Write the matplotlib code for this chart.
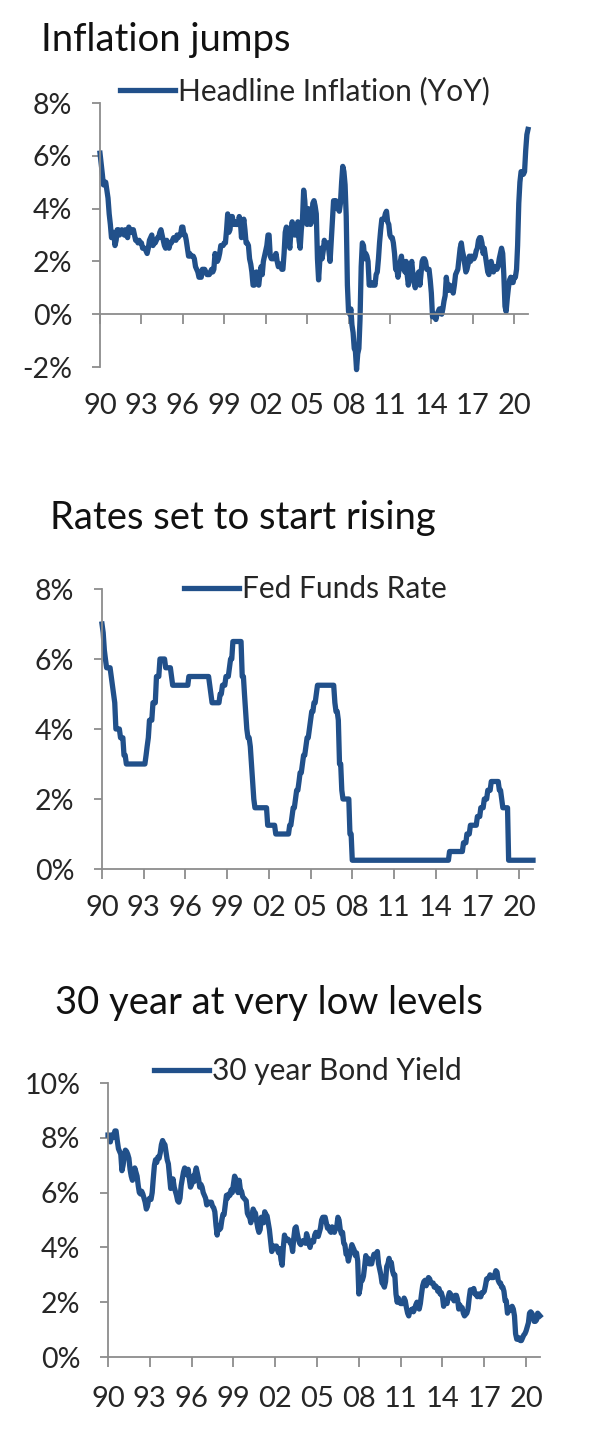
import pandas as pd
import matplotlib.pyplot as plt
from matplotlib.ticker import FuncFormatter

plt.rcParams['font.family'] = ['Lato', 'DejaVu Sans']

# Fechas mensuales: dic-1990 a dic-2021
fechas = pd.date_range("1990-12-01", "2021-12-01", freq="MS")

# Inflación general (% anual), mensual desde dic-1990
inflacion = [
    6.1,
    5.7, 5.3, 4.9, 4.9, 5.0, 4.7, 4.4, 3.8, 3.4, 2.9, 3.0, 3.1,
    2.6, 2.8, 3.2, 3.2, 3.0, 3.1, 3.2, 3.1, 3.0, 3.2, 3.0, 2.9,
    3.3, 3.2, 3.1, 3.2, 3.2, 3.0, 2.8, 2.8, 2.7, 2.8, 2.7, 2.7,
    2.5, 2.5, 2.5, 2.4, 2.3, 2.5, 2.8, 2.9, 3.0, 2.6, 2.7, 2.7,
    2.8, 2.9, 2.9, 3.1, 3.2, 3.0, 2.8, 2.6, 2.5, 2.8, 2.6, 2.5,
    2.7, 2.7, 2.8, 2.9, 2.9, 2.8, 3.0, 2.9, 3.0, 3.0, 3.3, 3.3,
    3.0, 3.0, 2.8, 2.5, 2.2, 2.3, 2.2, 2.2, 2.2, 2.1, 1.8, 1.7,
    1.6, 1.4, 1.4, 1.4, 1.7, 1.7, 1.7, 1.6, 1.5, 1.5, 1.5, 1.6,
    1.7, 1.6, 1.7, 2.3, 2.1, 2.0, 2.1, 2.3, 2.6, 2.6, 2.6, 2.7,
    2.7, 3.2, 3.8, 3.1, 3.2, 3.7, 3.7, 3.4, 3.5, 3.4, 3.4, 3.4,
    3.7, 3.5, 2.9, 3.3, 3.6, 3.2, 2.7, 2.7, 2.6, 2.1, 1.9, 1.6,
    1.1, 1.1, 1.5, 1.6, 1.2, 1.1, 1.5, 1.8, 1.5, 2.0, 2.2, 2.4,
    2.6, 3.0, 3.0, 2.2, 2.1, 2.1, 2.1, 2.2, 2.3, 2.0, 1.8, 1.9,
    1.9, 1.7, 1.7, 2.3, 3.1, 3.3, 3.0, 2.7, 2.5, 3.2, 3.5, 3.3,
    3.0, 3.0, 3.1, 3.5, 2.8, 2.5, 3.2, 3.6, 4.7, 4.3, 3.5, 3.4,
    4.0, 3.6, 3.4, 3.5, 4.2, 4.3, 4.1, 3.8, 2.1, 1.3, 2.0, 2.5,
    2.1, 2.4, 2.8, 2.6, 2.7, 2.7, 2.4, 2.0, 2.8, 3.5, 4.3, 4.1,
    4.3, 4.0, 4.0, 3.9, 4.2, 5.0, 5.6, 5.4, 4.9, 3.7, 1.1, 0.1,
    0.0, 0.2, -0.4, -0.7, -1.3, -1.4, -2.1, -1.5, -1.3, -0.2, 1.8, 2.7,
    2.6, 2.1, 2.3, 2.2, 2.0, 1.1, 1.2, 1.1, 1.1, 1.2, 1.1, 1.5,
    1.6, 2.1, 2.7, 3.2, 3.6, 3.6, 3.6, 3.8, 3.9, 3.5, 3.4, 3.0,
    2.9, 2.9, 2.7, 2.3, 1.7, 1.7, 1.4, 1.7, 2.0, 2.2, 1.8, 1.7,
    1.6, 2.0, 1.5, 1.1, 1.4, 1.8, 2.0, 1.5, 1.2, 1.0, 1.2, 1.5,
    1.6, 1.1, 1.5, 2.0, 2.1, 2.1, 2.0, 1.7, 1.7, 1.7, 1.3, 0.8,
    -0.1, 0.0, -0.1, -0.2, 0.0, 0.1, 0.2, 0.2, 0.0, 0.2, 0.5, 0.7,
    1.4, 1.0, 0.9, 1.1, 1.0, 1.0, 0.8, 1.1, 1.5, 1.6, 1.7, 2.1,
    2.5, 2.7, 2.4, 2.2, 1.9, 1.6, 1.7, 1.9, 2.2, 2.0, 2.2, 2.1,
    2.1, 2.2, 2.4, 2.5, 2.8, 2.9, 2.9, 2.7, 2.3, 2.5, 2.2, 1.9,
    1.6, 1.5, 1.9, 2.0, 1.8, 1.6, 1.8, 1.7, 1.7, 1.8, 2.1, 2.3,
    2.5, 2.3, 1.5, 0.3, 0.1, 0.6, 1.0, 1.3, 1.4, 1.2, 1.2, 1.4,
    1.4, 1.7, 2.6, 4.2, 5.0, 5.4, 5.4, 5.3, 5.4, 6.2, 6.8, 7.0,
]

# Tasa de fondos federales (%), mensual desde dic-1990
fed_funds = [
    7.0,
    6.75, 6.25, 6.0, 5.75, 5.75, 5.75, 5.75, 5.5, 5.25, 5.0, 4.75, 4.0,
    4.0, 4.0, 4.0, 3.75, 3.75, 3.75, 3.25, 3.25, 3.0, 3.0, 3.0, 3.0,
    3.0, 3.0, 3.0, 3.0, 3.0, 3.0, 3.0, 3.0, 3.0, 3.0, 3.0, 3.0,
    3.0, 3.25, 3.5, 3.75, 4.25, 4.25, 4.25, 4.75, 4.75, 4.75, 5.5, 5.5,
    5.5, 6.0, 6.0, 6.0, 6.0, 6.0, 5.75, 5.75, 5.75, 5.75, 5.75, 5.5,
    5.25, 5.25, 5.25, 5.25, 5.25, 5.25, 5.25, 5.25, 5.25, 5.25, 5.25, 5.25,
    5.25, 5.25, 5.5, 5.5, 5.5, 5.5, 5.5, 5.5, 5.5, 5.5, 5.5, 5.5,
    5.5, 5.5, 5.5, 5.5, 5.5, 5.5, 5.5, 5.5, 5.25, 5.0, 4.75, 4.75,
    4.75, 4.75, 4.75, 4.75, 4.75, 5.0, 5.0, 5.25, 5.25, 5.25, 5.5, 5.5,
    5.5, 5.75, 6.0, 6.0, 6.5, 6.5, 6.5, 6.5, 6.5, 6.5, 6.5, 6.5,
    5.5, 5.5, 5.0, 4.5, 4.0, 3.75, 3.75, 3.5, 3.0, 2.5, 2.0, 1.75,
    1.75, 1.75, 1.75, 1.75, 1.75, 1.75, 1.75, 1.75, 1.75, 1.75, 1.25, 1.25,
    1.25, 1.25, 1.25, 1.25, 1.25, 1.0, 1.0, 1.0, 1.0, 1.0, 1.0, 1.0,
    1.0, 1.0, 1.0, 1.0, 1.0, 1.25, 1.25, 1.5, 1.75, 1.75, 2.0, 2.25,
    2.25, 2.5, 2.75, 2.75, 3.0, 3.25, 3.25, 3.5, 3.75, 3.75, 4.0, 4.25,
    4.5, 4.5, 4.75, 4.75, 5.0, 5.25, 5.25, 5.25, 5.25, 5.25, 5.25, 5.25,
    5.25, 5.25, 5.25, 5.25, 5.25, 5.25, 5.25, 5.25, 4.75, 4.5, 4.5, 4.25,
    3.0, 3.0, 2.25, 2.0, 2.0, 2.0, 2.0, 2.0, 2.0, 1.0, 1.0, 0.25,
    0.25, 0.25, 0.25, 0.25, 0.25, 0.25, 0.25, 0.25, 0.25, 0.25, 0.25, 0.25,
    0.25, 0.25, 0.25, 0.25, 0.25, 0.25, 0.25, 0.25, 0.25, 0.25, 0.25, 0.25,
    0.25, 0.25, 0.25, 0.25, 0.25, 0.25, 0.25, 0.25, 0.25, 0.25, 0.25, 0.25,
    0.25, 0.25, 0.25, 0.25, 0.25, 0.25, 0.25, 0.25, 0.25, 0.25, 0.25, 0.25,
    0.25, 0.25, 0.25, 0.25, 0.25, 0.25, 0.25, 0.25, 0.25, 0.25, 0.25, 0.25,
    0.25, 0.25, 0.25, 0.25, 0.25, 0.25, 0.25, 0.25, 0.25, 0.25, 0.25, 0.25,
    0.25, 0.25, 0.25, 0.25, 0.25, 0.25, 0.25, 0.25, 0.25, 0.25, 0.25, 0.5,
    0.5, 0.5, 0.5, 0.5, 0.5, 0.5, 0.5, 0.5, 0.5, 0.5, 0.5, 0.75,
    0.75, 0.75, 1.0, 1.0, 1.0, 1.25, 1.25, 1.25, 1.25, 1.25, 1.25, 1.5,
    1.5, 1.5, 1.75, 1.75, 1.75, 2.0, 2.0, 2.0, 2.25, 2.25, 2.25, 2.5,
    2.5, 2.5, 2.5, 2.5, 2.5, 2.5, 2.25, 2.25, 2.0, 1.75, 1.75, 1.75,
    1.75, 1.75, 0.25, 0.25, 0.25, 0.25, 0.25, 0.25, 0.25, 0.25, 0.25, 0.25,
    0.25, 0.25, 0.25, 0.25, 0.25, 0.25, 0.25, 0.25, 0.25, 0.25, 0.25, 0.25,
]

# Rendimiento del bono (%), mensual desde dic-1990
bono = [
    8.1,
    8.1, 7.85, 8.1, 8.0, 8.1, 8.25, 8.25, 7.9, 7.6, 7.5, 7.4, 6.8,
    7.0, 7.35, 7.55, 7.5, 7.4, 7.25, 6.85, 6.6, 6.45, 6.6, 6.9, 6.75,
    6.6, 6.25, 6.0, 5.95, 6.05, 5.95, 5.8, 5.65, 5.4, 5.5, 5.75, 5.8,
    5.75, 6.0, 6.5, 7.0, 7.2, 7.1, 7.3, 7.25, 7.45, 7.75, 7.9, 7.8,
    7.75, 7.45, 7.2, 7.05, 6.6, 6.15, 6.3, 6.5, 6.2, 6.05, 5.9, 5.7,
    5.65, 5.8, 6.25, 6.5, 6.75, 6.9, 6.85, 6.65, 6.85, 6.5, 6.2, 6.3,
    6.6, 6.4, 6.7, 6.9, 6.7, 6.5, 6.2, 6.3, 6.2, 6.0, 5.9, 5.8,
    5.55, 5.6, 5.65, 5.65, 5.65, 5.5, 5.45, 5.3, 4.8, 4.45, 4.8, 4.65,
    4.7, 5.0, 5.2, 5.2, 5.55, 5.9, 5.8, 5.95, 5.9, 6.1, 6.0, 6.3,
    6.6, 6.5, 6.25, 6.0, 6.45, 6.1, 6.05, 5.85, 5.8, 5.75, 5.7, 5.25,
    5.15, 5.1, 4.9, 5.15, 5.4, 5.3, 5.25, 4.95, 4.7, 4.55, 4.65, 5.1,
    5.05, 4.9, 5.3, 5.2, 5.15, 4.9, 4.65, 4.25, 3.85, 3.95, 4.05, 4.0,
    4.05, 3.9, 3.8, 3.95, 3.55, 3.35, 4.0, 4.45, 4.25, 4.3, 4.3, 4.25,
    4.15, 4.1, 3.85, 4.35, 4.7, 4.75, 4.5, 4.3, 4.15, 4.1, 4.2, 4.25,
    4.2, 4.15, 4.5, 4.35, 4.15, 4.0, 4.2, 4.25, 4.2, 4.45, 4.55, 4.45,
    4.4, 4.55, 4.7, 5.0, 5.1, 5.1, 5.1, 4.9, 4.7, 4.75, 4.6, 4.55,
    4.75, 4.7, 4.55, 4.7, 4.75, 5.1, 5.0, 4.65, 4.5, 4.55, 4.15, 4.1,
    3.75, 3.75, 3.5, 3.7, 3.9, 4.1, 4.0, 3.9, 3.7, 3.8, 3.5, 2.3,
    2.5, 2.9, 2.8, 2.95, 3.3, 3.7, 3.55, 3.6, 3.4, 3.4, 3.4, 3.6,
    3.75, 3.7, 3.75, 3.85, 3.4, 3.2, 3.0, 2.7, 2.65, 2.55, 2.75, 3.3,
    3.4, 3.6, 3.4, 3.45, 3.15, 3.0, 3.0, 2.3, 2.0, 2.15, 2.0, 1.95,
    1.95, 1.95, 2.15, 2.05, 1.8, 1.6, 1.5, 1.7, 1.7, 1.75, 1.65, 1.75,
    1.9, 2.0, 1.95, 1.75, 1.95, 2.3, 2.6, 2.75, 2.8, 2.6, 2.75, 2.9,
    2.85, 2.7, 2.7, 2.7, 2.55, 2.6, 2.55, 2.4, 2.5, 2.3, 2.35, 2.2,
    1.85, 2.0, 2.05, 1.95, 2.2, 2.35, 2.3, 2.15, 2.15, 2.05, 2.25, 2.25,
    2.1, 1.75, 1.9, 1.8, 1.8, 1.6, 1.5, 1.55, 1.6, 1.75, 2.15, 2.45,
    2.45, 2.4, 2.5, 2.3, 2.3, 2.2, 2.3, 2.2, 2.2, 2.35, 2.35, 2.4,
    2.6, 2.85, 2.85, 2.9, 3.0, 2.9, 2.9, 2.9, 3.0, 3.15, 3.1, 2.8,
    2.7, 2.7, 2.55, 2.55, 2.4, 2.05, 2.05, 1.6, 1.7, 1.7, 1.8, 1.85,
    1.75, 1.5, 0.85, 0.65, 0.65, 0.7, 0.6, 0.6, 0.7, 0.8, 0.85, 0.95,
    1.1, 1.25, 1.6, 1.65, 1.6, 1.5, 1.3, 1.3, 1.35, 1.6, 1.55, 1.5,
]

# Etiquetas del eje X (marcas en diciembre de cada año)
anios_marca = list(range(1990, 2021, 3))
etiquetas_x = [str(a)[2:] for a in anios_marca]

paneles = [
    {"titulo": "Inflation jumps", "leyenda": "Headline Inflation (YoY)", "datos": inflacion,
     "yticks": [-2, 0, 2, 4, 6, 8], "caja": (100, 528, 103, 367),
     "titulo_pos": (41, 51), "leyenda_pos": (120, 91), "pad_x": 50},
    {"titulo": "Rates set to start rising", "leyenda": "Fed Funds Rate", "datos": fed_funds,
     "yticks": [0, 2, 4, 6, 8], "caja": (102, 533, 589, 869),
     "titulo_pos": (50, 529), "leyenda_pos": (184, 589), "pad_x": 12},
    {"titulo": "30 year at very low levels", "leyenda": "30 year Bond Yield", "datos": bono,
     "yticks": [0, 2, 4, 6, 8, 10], "caja": (108, 540, 1083, 1357),
     "titulo_pos": (55, 1014), "leyenda_pos": (154, 1071), "pad_x": 14},
]

W, H = 600, 1443
fig = plt.figure(figsize=(W / 100, H / 100), dpi=100)
color_linea = "#21508a"
color_eje = "#8c8c8c"
color_texto = "#262626"

for p in paneles:
    x0, x1, y0, y1 = p["caja"]
    ax = fig.add_axes([x0 / W, 1 - y1 / H, (x1 - x0) / W, (y1 - y0) / H])
    linea, = ax.plot(fechas, p["datos"], color=color_linea, linewidth=3.8,
                     label=p["leyenda"], clip_on=False, solid_joinstyle="round")

    ax.set_ylim(p["yticks"][0], p["yticks"][-1])
    ax.set_yticks(p["yticks"])
    ax.yaxis.set_major_formatter(FuncFormatter(lambda v, pos: f"{v:.0f}%"))
    ax.set_xlim(pd.Timestamp("1990-12-01"), pd.Timestamp("2021-12-01"))
    ax.set_xticks([pd.Timestamp(f"{a}-12-01") for a in anios_marca])
    ax.set_xticklabels(etiquetas_x)

    for lado in ["top", "right"]:
        ax.spines[lado].set_visible(False)
    for lado in ["left", "bottom"]:
        ax.spines[lado].set_color(color_eje)
        ax.spines[lado].set_linewidth(1.3)
    ax.spines["bottom"].set_position(("data", 0))

    ax.tick_params(axis="y", direction="out", length=6, width=1.3, color=color_eje,
                   pad=14, labelsize=20.5, labelcolor=color_texto)
    ax.tick_params(axis="x", direction="out", length=7, width=1.3, color=color_eje,
                   pad=p["pad_x"], labelsize=21, labelcolor=color_texto)
    ax.patch.set_alpha(0)

    fig.text(p["titulo_pos"][0] / W, 1 - p["titulo_pos"][1] / H, p["titulo"],
             fontsize=27.5, color="#111111", va="baseline", ha="left")
    ax.legend(handles=[linea], loc="center left",
              bbox_to_anchor=(p["leyenda_pos"][0] / W, 1 - p["leyenda_pos"][1] / H),
              bbox_transform=fig.transFigure, frameon=False, fontsize=21.5,
              borderpad=0, borderaxespad=0, handlelength=1.85, handletextpad=0.1,
              labelcolor=color_texto)

fig.savefig("out.png", dpi=100, facecolor="white")
